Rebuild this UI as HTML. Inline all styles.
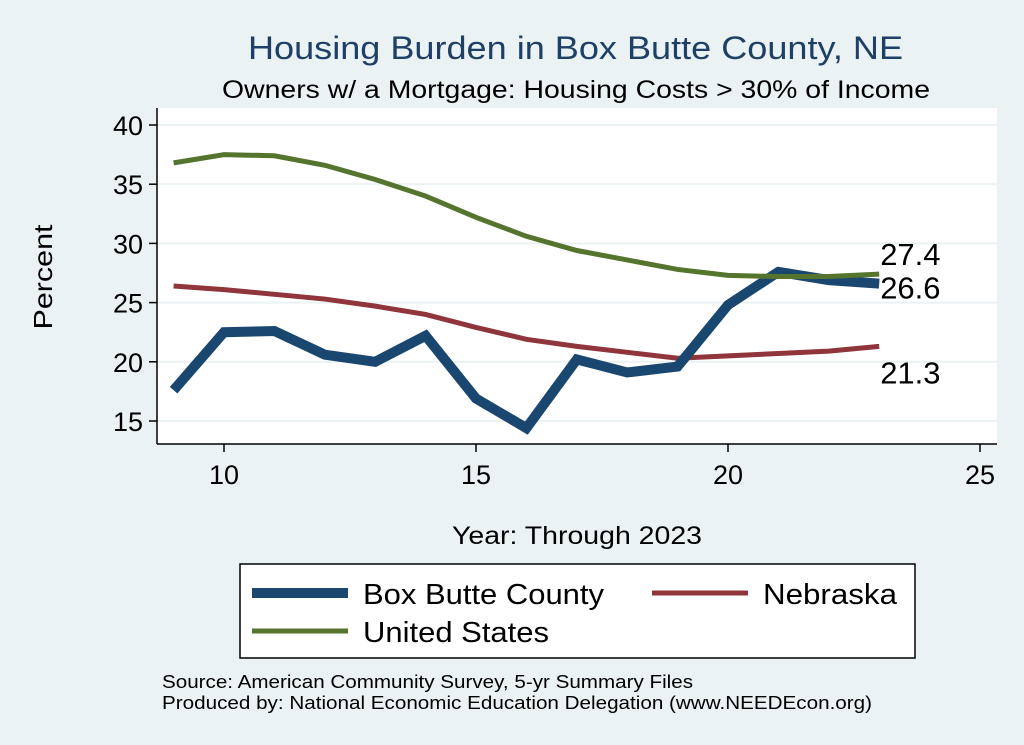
<!DOCTYPE html>
<html><head><meta charset="utf-8"><style>
body{margin:0;background:#eaf2f3;}
svg{display:block;font-family:"Liberation Sans",sans-serif;}
</style></head><body>
<svg id="chart" width="1024" height="745" viewBox="0 0 1024 745">
<rect x="0" y="0" width="1024" height="745" fill="#eaf2f3"/>
<text x="248" y="59" font-size="32" textLength="655" lengthAdjust="spacingAndGlyphs" fill="#1e3f66">Housing Burden in Box Butte County, NE</text>
<text x="222" y="98" font-size="25" textLength="708" lengthAdjust="spacingAndGlyphs" fill="#000">Owners w/ a Mortgage: Housing Costs &gt; 30% of Income</text>
<rect x="157" y="108" width="840" height="336" fill="#fff"/>
<g id="grid"></g>
<g id="axes"></g>
<g id="series"></g>
<text x="52" y="277" text-anchor="middle" font-size="26" textLength="105" lengthAdjust="spacingAndGlyphs" transform="rotate(-90 52 277)">Percent</text>
<text x="452" y="544" font-size="25" textLength="250" lengthAdjust="spacingAndGlyphs">Year: Through 2023</text>
<g>
<rect x="240" y="564" width="675" height="94" fill="#fff" stroke="#000" stroke-width="1.5"/>
<line x1="252" y1="593" x2="348" y2="593" stroke="#1a476f" stroke-width="10"/>
<text x="363" y="604" font-size="29" textLength="241" lengthAdjust="spacingAndGlyphs">Box Butte County</text>
<line x1="652" y1="593" x2="748" y2="593" stroke="#90353b" stroke-width="5"/>
<text x="763" y="604" font-size="29" textLength="134" lengthAdjust="spacingAndGlyphs">Nebraska</text>
<line x1="252" y1="631" x2="348" y2="631" stroke="#55752f" stroke-width="5"/>
<text x="363" y="642" font-size="29" textLength="186" lengthAdjust="spacingAndGlyphs">United States</text>
</g>
<text x="162" y="688" font-size="18" textLength="531" lengthAdjust="spacingAndGlyphs">Source: American Community Survey, 5-yr Summary Files</text>
<text x="162" y="709" font-size="18" textLength="710" lengthAdjust="spacingAndGlyphs">Produced by: National Economic Education Delegation (www.NEEDEcon.org)</text>
</svg>
<script>
const years=[9,10,11,12,13,14,15,16,17,18,19,20,21,22,23];
const boxButte=[17.6,22.5,22.6,20.6,20.0,22.2,16.9,14.4,20.2,19.1,19.6,24.8,27.6,26.9,26.6];
const nebraska=[26.4,26.1,25.7,25.3,24.7,24.0,22.9,21.9,21.3,20.8,20.3,20.5,20.7,20.9,21.3];
const unitedStates=[36.8,37.5,37.4,36.6,35.4,34.0,32.2,30.6,29.4,28.6,27.8,27.3,27.2,27.2,27.4];
const yTicks=[15,20,25,30,35,40];
const xTicks=[10,15,20,25];
const NS='http://www.w3.org/2000/svg';
const xs=v=>224+(v-10)*50.4;
const ys=v=>421-(v-15)*11.84;
function mk(tag,attrs,parent,txt){const e=document.createElementNS(NS,tag);for(const k in attrs)e.setAttribute(k,attrs[k]);if(txt!==undefined)e.textContent=txt;parent.appendChild(e);return e;}
const grid=document.getElementById('grid'),axes=document.getElementById('axes'),ser=document.getElementById('series');
yTicks.forEach(t=>{
 const g=mk('line',{x1:157,x2:997,y1:ys(t),y2:ys(t),stroke:'#eaf2f3','stroke-width':2},grid);
 
 
 const tk=mk('line',{x1:149,x2:157,y1:ys(t),y2:ys(t),stroke:'#000','stroke-width':1.5},axes);
 
 
 const l=mk('text',{x:143,y:ys(t)+10,'text-anchor':'end','font-size':27},axes,t);
 
 
});
xTicks.forEach(t=>{
 const tk=mk('line',{x1:xs(t),x2:xs(t),y1:444,y2:452,stroke:'#000','stroke-width':1.5},axes);
 
 
 const l=mk('text',{x:xs(t),y:484,'text-anchor':'middle','font-size':27},axes,t);
 
 
});
const ya=mk('line',{x1:157,x2:157,y1:108,y2:444,stroke:'#000','stroke-width':1.5},axes);


const xa=mk('line',{x1:157,x2:997,y1:444,y2:444,stroke:'#000','stroke-width':1.5},axes);


function line(vals,color,w,name){
 const p=mk('polyline',{points:vals.map((v,i)=>xs(years[i])+','+ys(v)).join(' '),fill:'none',stroke:color,'stroke-width':w,'stroke-linejoin':'miter'},ser);
 
 
}
line(nebraska,'#90353b',5,'nebraska-line');
line(boxButte,'#1a476f',10,'box-butte-line');
line(unitedStates,'#55752f',5,'us-line');
const last=years.length-1,lx=xs(years[last])+1;
const labels=[[unitedStates[last],-9,'us-end-label'],[boxButte[last],15,'box-butte-end-label'],[nebraska[last],37,'nebraska-end-label']];
labels.forEach(([v,dy,n])=>{
 const t=mk('text',{x:lx,y:ys(v)+dy,'font-size':31},ser,v.toFixed(1));
 
 
});
</script>
</body></html>
